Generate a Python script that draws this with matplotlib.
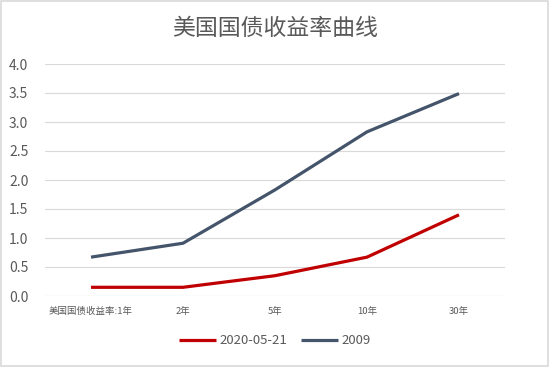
import matplotlib
matplotlib.use("Agg")
import matplotlib.pyplot as plt
from matplotlib.patches import Rectangle

plt.rcParams['font.family'] = ['Noto Sans CJK SC', 'DejaVu Sans']

categories = ["美国国债收益率:1年", "2年", "5年", "10年", "30年"]
series_2020 = [0.15, 0.15, 0.35, 0.67, 1.40]
series_2009 = [0.67, 0.91, 1.83, 2.83, 3.49]
yticks = [0.0, 0.5, 1.0, 1.5, 2.0, 2.5, 3.0, 3.5, 4.0]

fig = plt.figure(figsize=(5.5, 3.67), dpi=100)
ax = fig.add_axes([45/550, 1 - 296/367, 460/550, 232/367])

x = list(range(len(categories)))
ax.plot(x, series_2020, color="#C00000", lw=2.3, label="2020-05-21", solid_capstyle="butt")
ax.plot(x, series_2009, color="#44546A", lw=2.3, label="2009", solid_capstyle="butt")

ax.set_xlim(-0.5, len(categories) - 0.5)
ax.set_ylim(0, 4.0)
ax.set_yticks(yticks)
ax.set_yticklabels([f"{v:.1f}" for v in yticks], fontsize=10, color="#595959")
ax.set_xticks(x)
ax.set_xticklabels(categories, fontsize=6.8, color="#595959")
ax.tick_params(axis="y", length=0, pad=12)
ax.tick_params(axis="x", length=0, pad=8)
ax.grid(axis="y", color="#D9D9D9", lw=0.8)
ax.set_axisbelow(True)
for s in ax.spines.values():
    s.set_visible(False)
ax.axhline(0, color="#D9D9D9", lw=0.8, zorder=0)

fig.text(0.5, 1 - 28/367, "美国国债收益率曲线", ha="center", va="center", fontsize=16.5, color="#595959")
leg = fig.legend(loc="center", bbox_to_anchor=(0.5, 1 - 341/367), ncol=2, frameon=False,
                 fontsize=9.5, handlelength=2.8, columnspacing=1.0, handletextpad=0.3)
for t in leg.get_texts():
    t.set_color("#595959")

fig.patches.append(Rectangle((0.002, 0.003), 0.995, 0.993, transform=fig.transFigure,
                             fill=False, edgecolor="#D9D9D9", lw=1.2))
fig.savefig("out.png", dpi=100)
